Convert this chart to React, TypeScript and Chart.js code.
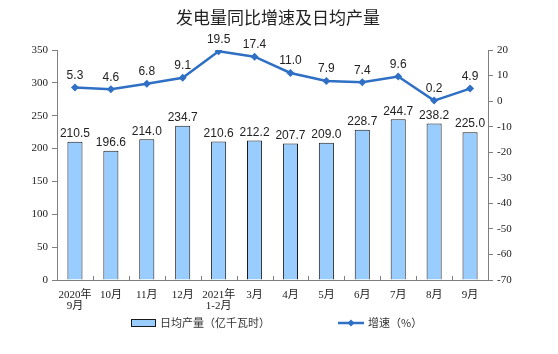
import React, { useEffect, useRef } from "react";
import { Chart, registerables } from "chart.js";

Chart.register(...registerables);

const categories: (string | string[])[] = [
  ["2020年", "9月"], "10月", "11月", "12月", ["2021年", "1-2月"], "3月", "4月", "5月", "6月", "7月", "8月", "9月",
];
const dailyOutput = [210.5, 196.6, 214.0, 234.7, 210.6, 212.2, 207.7, 209.0, 228.7, 244.7, 238.2, 225.0];
const growthRate = [5.3, 4.6, 6.8, 9.1, 19.5, 17.4, 11.0, 7.9, 7.4, 9.6, 0.2, 4.9];
const leftTicks = [0, 50, 100, 150, 200, 250, 300, 350];
const rightTicks = [-70, -60, -50, -40, -30, -20, -10, 0, 10, 20];

const titleText = "发电量同比增速及日均产量";
const barLegend = "日均产量（亿千瓦时）";
const lineLegend = "增速（%）";

const BAR_FILL = "#99CCFF";
const BAR_BORDER = "#1a1a1a";
const LINE_COLOR = "#2F6FC4";
const AXIS_COLOR = "#7f7f7f";
const TICK_FONT = "'Liberation Serif', 'Noto Sans CJK SC', serif";
const CJK_FONT = "'Noto Sans CJK SC', sans-serif";
const LABEL_FONT = "'Liberation Sans', Arial, sans-serif";

function diamond(ctx: CanvasRenderingContext2D, x: number, y: number, r: number) {
  ctx.beginPath();
  ctx.moveTo(x, y - r);
  ctx.lineTo(x + r, y);
  ctx.lineTo(x, y + r);
  ctx.lineTo(x - r, y);
  ctx.closePath();
  ctx.fill();
}

const decorPlugin = {
  id: "decor",
  afterDatasetsDraw(chart: any) {
    const ctx: CanvasRenderingContext2D = chart.ctx;
    ctx.save();
    const area = chart.chartArea;
    ctx.strokeStyle = AXIS_COLOR;
    ctx.lineWidth = 1;
    const n = categories.length;
    const step = (area.right - area.left) / n;
    for (let i = 1; i < n; i++) {
      const x = Math.round(area.left + step * i) + 0.5;
      ctx.beginPath();
      ctx.moveTo(x, area.bottom);
      ctx.lineTo(x, area.bottom - 4);
      ctx.stroke();
    }
    ctx.fillStyle = "#222";
    ctx.font = `12px ${LABEL_FONT}`;
    ctx.textAlign = "center";
    ctx.textBaseline = "middle";
    const barMeta = chart.getDatasetMeta(0);
    barMeta.data.forEach((el: any, i: number) => {
      ctx.fillText(dailyOutput[i].toFixed(1), el.x, el.y - 8);
    });
    const lineMeta = chart.getDatasetMeta(1);
    lineMeta.data.forEach((el: any, i: number) => {
      ctx.fillText(growthRate[i].toFixed(1), el.x, el.y - 12);
    });
    ctx.restore();
  },
  afterDraw(chart: any) {
    const ctx: CanvasRenderingContext2D = chart.ctx;
    ctx.save();
    ctx.fillStyle = "#222";
    ctx.font = `17px ${CJK_FONT}`;
    ctx.textAlign = "center";
    ctx.textBaseline = "middle";
    ctx.fillText(titleText, 278, 18);
    const ly = 323;
    ctx.fillStyle = BAR_FILL;
    ctx.fillRect(131, ly - 4, 25, 8);
    ctx.strokeStyle = BAR_BORDER;
    ctx.lineWidth = 1;
    ctx.strokeRect(131.5, ly - 3.5, 24, 7);
    ctx.fillStyle = "#333";
    ctx.font = `11px ${CJK_FONT}`;
    ctx.textAlign = "left";
    ctx.fillText(barLegend, 160, ly);
    ctx.strokeStyle = LINE_COLOR;
    ctx.lineWidth = 2.5;
    ctx.beginPath();
    ctx.moveTo(338, ly);
    ctx.lineTo(364, ly);
    ctx.stroke();
    ctx.fillStyle = LINE_COLOR;
    diamond(ctx, 351, ly, 3.5);
    ctx.fillStyle = "#333";
    ctx.fillText(lineLegend, 368, ly);
    ctx.restore();
  },
};

export default function App() {
  const ref = useRef<HTMLCanvasElement | null>(null);
  useEffect(() => {
    if (!ref.current) return;
    const chart = new Chart(ref.current, {
      type: "bar",
      data: {
        labels: categories as any,
        datasets: [
          {
            type: "bar",
            label: barLegend,
            data: dailyOutput,
            backgroundColor: BAR_FILL,
            borderColor: BAR_BORDER,
            borderWidth: 1,
            barPercentage: 0.42,
            categoryPercentage: 1,
            yAxisID: "y",
            order: 2,
          },
          {
            type: "line",
            label: lineLegend,
            data: growthRate,
            borderColor: LINE_COLOR,
            backgroundColor: LINE_COLOR,
            borderWidth: 2.5,
            pointStyle: "rectRot",
            pointRadius: 4,
            pointBorderWidth: 0,
            tension: 0,
            yAxisID: "y1",
            order: 1,
          },
        ],
      },
      options: {
        responsive: false,
        animation: false,
        layout: { padding: { top: 50, right: 0, left: 0, bottom: 0 } },
        plugins: {
          legend: { display: false },
          title: { display: false },
          tooltip: { enabled: false },
        },
        scales: {
          x: {
            offset: true,
            grid: { display: false },
            border: { display: true, color: AXIS_COLOR },
            ticks: {
              color: "#222",
              font: { family: TICK_FONT, size: 11, lineHeight: 1.05 },
              padding: 1,
              maxRotation: 0,
              autoSkip: false,
            },
            afterFit: (s: any) => {
              s.height = 74;
            },
          },
          y: {
            position: "left",
            min: 0,
            max: 350,
            afterBuildTicks: (s: any) => {
              s.ticks = leftTicks.map((v) => ({ value: v }));
            },
            grid: { drawOnChartArea: false, drawTicks: true, tickLength: 5, color: AXIS_COLOR },
            border: { display: true, color: AXIS_COLOR },
            ticks: { color: "#222", font: { family: TICK_FONT, size: 11 }, padding: 4 },
            afterFit: (s: any) => {
              s.width = 57;
            },
          },
          y1: {
            position: "right",
            min: -70,
            max: 20,
            afterBuildTicks: (s: any) => {
              s.ticks = rightTicks.map((v) => ({ value: v }));
            },
            grid: { drawOnChartArea: false, drawTicks: true, tickLength: 5, color: AXIS_COLOR },
            border: { display: true, color: AXIS_COLOR },
            ticks: { color: "#222", font: { family: TICK_FONT, size: 11 }, padding: 4 },
            afterFit: (s: any) => {
              s.width = 70;
            },
          },
        },
      },
      plugins: [decorPlugin],
    });
    return () => chart.destroy();
  }, []);
  return (
    <div style={{ position: "absolute", left: 0, top: 0, width: 558, height: 354, background: "#fff" }}>
      <canvas ref={ref} width={558} height={354} />
    </div>
  );
}
